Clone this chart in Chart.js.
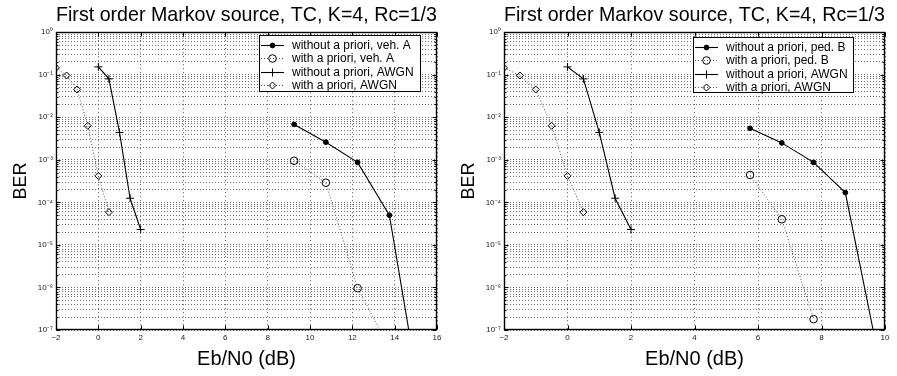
<!DOCTYPE html>
<html>
<head>
<meta charset="utf-8">
<script src="https://cdn.jsdelivr.net/npm/chart.js@4.4.0/dist/chart.umd.min.js"></script>
<style>
  html, body { margin: 0; padding: 0; background: #fff; }
  #wrap { display: flex; width: 897px; height: 376px; }
  canvas { display: block; }
</style>
</head>
<body>
<div id="wrap">
  <canvas id="left" width="448" height="376"></canvas>
  <canvas id="right" width="449" height="376"></canvas>
</div>
<script>
const titleText = "First order Markov source, TC, K=4, Rc=1/3";

// AWGN curves (same in both panels)
const ebnoAwgnNoApr = [0, 0.5, 1, 1.5, 2];
const berAwgnNoApr = [0.153, 0.080, 4.4e-3, 1.25e-4, 2.3e-5];
const ebnoAwgnApr = [-2, -1.5, -1, -0.5, 0, 0.5];
const berAwgnApr = [0.145, 0.096, 0.045, 6.3e-3, 4.2e-4, 5.9e-5];

// veh. A
const ebnoVehANoApr = [9.25, 10.75, 12.25, 13.75, 15.25];
const berVehANoApr = [6.8e-3, 2.6e-3, 8.7e-4, 5.0e-5, 1.9e-9];
const ebnoVehAApr = [9.25, 10.75, 12.25, 13.75];
const berVehAApr = [9.5e-4, 2.9e-4, 9.6e-7, 3.8e-8];

// ped. B
const ebnoPedBNoApr = [5.75, 6.75, 7.75, 8.75, 9.75];
const berPedBNoApr = [5.5e-3, 2.5e-3, 8.7e-4, 1.7e-4, 3.5e-8];
const ebnoPedBApr = [5.75, 6.75, 7.75];
const berPedBApr = [4.4e-4, 4.0e-5, 1.8e-7];

// axes
const berDecades = [-7, -6, -5, -4, -3, -2, -1, 0];
const berTickLabels = ["10\u207B\u2077", "10\u207B\u2076", "10\u207B\u2075", "10\u207B\u2074",
                       "10\u207B\u00B3", "10\u207B\u00B2", "10\u207B\u00B9", "10\u2070"];
const xRangeLeft = [-2, 16];
const xRangeRight = [-2, 10];

const FONT = '"Liberation Sans", Arial, Helvetica, sans-serif';

const xy = (xs, ys) => xs.map((x, i) => ({ x: x, y: ys[i] }));

const solid = (label, pts, style, r, fill) => ({
  label: label, data: pts, borderColor: "#000", borderWidth: 1.1,
  pointStyle: style, pointRadius: r, pointBackgroundColor: fill,
  pointBorderColor: "#000", pointBorderWidth: 1, tension: 0
});
const dotted = (label, pts, style, r) => ({
  label: label, data: pts, borderColor: "#555", borderWidth: 1, borderDash: [1, 2],
  pointStyle: style, pointRadius: r, pointBackgroundColor: "rgba(0,0,0,0)",
  pointBorderColor: "#000", pointBorderWidth: 1, tension: 0
});

// box round the plot and small inward ticks, like matlab
const framePlugin = {
  id: "frame",
  afterDraw(chart) {
    const { ctx, chartArea: a, scales: { x, y } } = chart;
    const l = Math.round(a.left) + 0.5, r = Math.round(a.right) - 0.5;
    const t = Math.round(a.top) + 0.5, b = Math.round(a.bottom) - 0.5;
    ctx.save();
    ctx.strokeStyle = "#000";
    ctx.lineWidth = 1;
    ctx.beginPath();
    x.ticks.forEach(tk => {
      const px = Math.round(x.getPixelForValue(tk.value)) + 0.5;
      ctx.moveTo(px, b); ctx.lineTo(px, b - 4);
      ctx.moveTo(px, t); ctx.lineTo(px, t + 4);
    });
    y.ticks.forEach(tk => {
      const e = Math.log10(tk.value);
      const len = Math.abs(e - Math.round(e)) < 1e-9 ? 4 : 2;
      const py = Math.round(y.getPixelForValue(tk.value)) + 0.5;
      ctx.moveTo(l, py); ctx.lineTo(l + len, py);
      ctx.moveTo(r, py); ctx.lineTo(r - len, py);
    });
    ctx.stroke();
    ctx.lineWidth = 1.4;
    ctx.strokeRect(l, t, r - l, b - t);
    ctx.restore();
  }
};

// legend box drawn inside the plot area
const boxLegend = {
  id: "boxLegend",
  afterDraw(chart, args, o) {
    const { ctx } = chart;
    ctx.save();
    ctx.fillStyle = "#fff";
    ctx.fillRect(o.left, o.top, o.width, o.height);
    ctx.strokeStyle = "#000";
    ctx.lineWidth = 1;
    ctx.strokeRect(o.left + 0.5, o.top + 0.5, o.width, o.height);
    ctx.font = "12px " + FONT;
    ctx.textBaseline = "middle";
    chart.data.datasets.forEach((ds, i) => {
      const cy = Math.round(o.top + o.firstRow + i * o.rowH) + 0.5;
      ctx.save();
      ctx.strokeStyle = ds.borderColor;
      ctx.lineWidth = ds.borderWidth;
      ctx.setLineDash(ds.borderDash || []);
      ctx.beginPath();
      ctx.moveTo(o.left + 2, cy);
      ctx.lineTo(o.left + 25, cy);
      ctx.stroke();
      ctx.restore();
      ctx.fillStyle = ds.pointBackgroundColor;
      ctx.strokeStyle = ds.pointBorderColor;
      ctx.lineWidth = ds.pointBorderWidth;
      Chart.helpers.drawPoint(ctx, { pointStyle: ds.pointStyle, radius: ds.pointRadius, rotation: 0, borderWidth: ds.pointBorderWidth }, o.left + 13.5, cy);
      ctx.fillStyle = "#000";
      ctx.fillText(ds.label, o.left + 33, cy);
    });
    ctx.restore();
  }
};

function makeChart(id, datasets, xRange, legendBox, padRight) {
  new Chart(document.getElementById(id), {
    type: "line",
    data: { datasets: datasets },
    options: {
      responsive: false,
      animation: false,
      layout: { padding: { left: 0, right: padRight, top: 0, bottom: 0 } },
      plugins: {
        legend: { display: false },
        tooltip: { enabled: false },
        title: {
          display: true, text: titleText, fullSize: false, color: "#000",
          font: { family: FONT, size: 21, weight: "normal", lineHeight: 1.2 },
          padding: { top: 3, bottom: 4 }
        },
        boxLegend: legendBox
      },
      scales: {
        x: {
          type: "linear", min: xRange[0], max: xRange[1],
          ticks: {
            stepSize: 2, autoSkip: false, maxRotation: 0, padding: 3, color: "#222",
            font: { family: FONT, size: 8 },
            callback: v => (v < 0 ? "\u2212" + (-v) : String(v))
          },
          grid: { color: "rgba(0,0,0,0.65)", lineWidth: 1, drawTicks: false },
          border: { display: false, dash: [1, 3] },
          title: {
            display: true, text: "Eb/N0 (dB)", color: "#000",
            font: { family: FONT, size: 20, lineHeight: 1.2 },
            padding: { top: 0, bottom: 5 }
          },
          afterFit: s => { s.height = 46; }
        },
        y: {
          type: "logarithmic", min: 1e-7, max: 1,
          afterBuildTicks: s => {
            const t = [];
            berDecades.forEach(e => {
              for (let m = 1; m <= 9; m++) {
                if (e === 0 && m > 1) break;
                t.push({ value: m * Math.pow(10, e) });
              }
            });
            s.ticks = t;
          },
          ticks: {
            autoSkip: false, padding: 3, color: "#222",
            font: { family: FONT, size: 8 },
            callback: v => {
              const e = Math.log10(v);
              if (Math.abs(e - Math.round(e)) > 1e-9) return "";
              return berTickLabels[berDecades.indexOf(Math.round(e))];
            }
          },
          grid: { color: "rgba(0,0,0,0.55)", lineWidth: 1, drawTicks: false },
          border: { display: false, dash: [1, 2] },
          title: {
            display: true, text: "BER", color: "#000",
            font: { family: FONT, size: 18, lineHeight: 1.2 },
            padding: { top: 10, bottom: 0 }
          },
          afterFit: s => { s.width = 56; }
        }
      }
    },
    plugins: [framePlugin, boxLegend]
  });
}

const awgnSets = () => [
  solid("without a priori, AWGN", xy(ebnoAwgnNoApr, berAwgnNoApr), "cross", 4, "#000"),
  dotted("with a priori, AWGN", xy(ebnoAwgnApr, berAwgnApr), "rectRot", 3.5)
];

makeChart("left", [
  solid("without a priori, veh. A", xy(ebnoVehANoApr, berVehANoApr), "circle", 2.4, "#000"),
  dotted("with a priori, veh. A", xy(ebnoVehAApr, berVehAApr), "circle", 3.8)
].concat(awgnSets()), xRangeLeft,
  { left: 259, top: 35, width: 161, height: 56, firstRow: 10, rowH: 13.3 }, 11);

makeChart("right", [
  solid("without a priori, ped. B", xy(ebnoPedBNoApr, berPedBNoApr), "circle", 2.4, "#000"),
  dotted("with a priori, ped. B", xy(ebnoPedBApr, berPedBApr), "circle", 3.8)
].concat(awgnSets()), xRangeRight,
  { left: 245, top: 37, width: 160, height: 55, firstRow: 10, rowH: 13.3 }, 12);
</script>
</body>
</html>
